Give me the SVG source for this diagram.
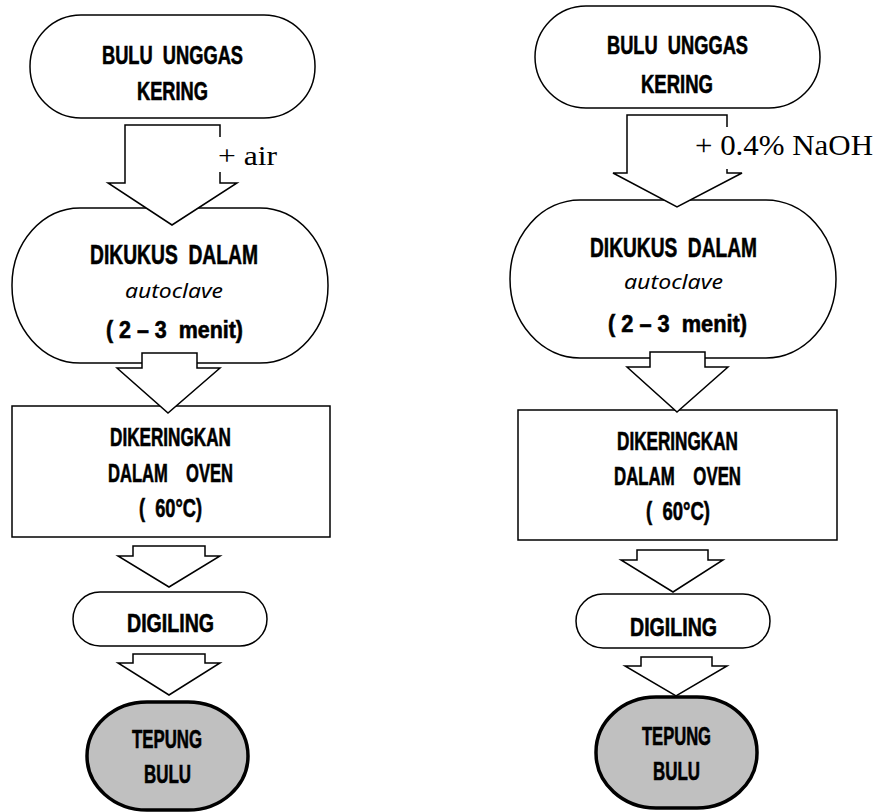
<svg xmlns="http://www.w3.org/2000/svg" width="879" height="812" viewBox="0 0 879 812" xml:space="preserve">
<style>
.n{fill:#fff;stroke:#000;stroke-width:1.5}
.e{fill:#c0c0c0;stroke:#000;stroke-width:3.5}
.af{fill:#fff;stroke:none}
.as{fill:none;stroke:#000;stroke-width:1.5;stroke-linejoin:miter}
text{white-space:pre}
.t{font-family:"Liberation Sans",Arial,sans-serif;font-weight:bold;fill:#000;stroke:#000;stroke-width:0.6;text-anchor:middle}
.h{font-family:"Noto Sans","DejaVu Sans",sans-serif;font-style:italic;fill:#000;text-anchor:middle}
.s{font-family:"Liberation Serif","Times New Roman",serif;fill:#000}
</style>
<rect width="879" height="812" fill="#fff"/>
<g id="left-start"><rect class="n" x="30" y="15" width="285" height="103" rx="51" ry="51"/>
<text class="t" x="172.5" y="64" font-size="25" textLength="141" lengthAdjust="spacingAndGlyphs">BULU  UNGGAS</text>
<text class="t" x="172.5" y="100" font-size="25" textLength="71" lengthAdjust="spacingAndGlyphs">KERING</text></g>
<g id="left-kukus"><rect class="n" x="12" y="208" width="316" height="155" rx="68" ry="77"/>
<text class="t" x="174" y="264" font-size="27" textLength="168" lengthAdjust="spacingAndGlyphs">DIKUKUS  DALAM</text>
<text class="h" x="174" y="298" font-size="20" textLength="98" lengthAdjust="spacingAndGlyphs">autoclave</text>
<text class="t" x="174.5" y="338" font-size="23" textLength="137" lengthAdjust="spacingAndGlyphs">( 2 – 3  menit)</text></g>
<g id="left-oven"><rect class="n" x="12" y="406" width="318" height="131"/>
<text class="t" x="170.5" y="446" font-size="25" textLength="121" lengthAdjust="spacingAndGlyphs">DIKERINGKAN</text>
<text class="t" x="170.5" y="482" font-size="25" textLength="125" lengthAdjust="spacingAndGlyphs">DALAM    OVEN</text>
<text class="t" x="170.5" y="517" font-size="25" textLength="63" lengthAdjust="spacingAndGlyphs">(  60°C)</text></g>
<g id="left-giling"><rect class="n" x="73" y="592" width="194" height="54" rx="27" ry="27"/>
<text class="t" x="170.5" y="632" font-size="26" textLength="87" lengthAdjust="spacingAndGlyphs">DIGILING</text></g>
<g id="left-tepung"><rect class="e" x="87" y="702" width="161" height="108" rx="60" ry="54"/>
<text class="t" x="167" y="748" font-size="25" textLength="70" lengthAdjust="spacingAndGlyphs">TEPUNG</text>
<text class="t" x="167.5" y="783" font-size="25" textLength="47" lengthAdjust="spacingAndGlyphs">BULU</text></g>

<g id="right-start"><rect class="n" x="535" y="6" width="285" height="102" rx="51" ry="51"/>
<text class="t" x="677.5" y="54" font-size="26" textLength="141" lengthAdjust="spacingAndGlyphs">BULU  UNGGAS</text>
<text class="t" x="677" y="93" font-size="26" textLength="72" lengthAdjust="spacingAndGlyphs">KERING</text></g>
<g id="right-kukus"><rect class="n" x="510" y="200" width="326" height="158" rx="70" ry="79"/>
<text class="t" x="673.5" y="257" font-size="28" textLength="167" lengthAdjust="spacingAndGlyphs">DIKUKUS  DALAM</text>
<text class="h" x="673.5" y="289" font-size="20" textLength="99" lengthAdjust="spacingAndGlyphs">autoclave</text>
<text class="t" x="677.5" y="332" font-size="23" textLength="139" lengthAdjust="spacingAndGlyphs">( 2 – 3  menit)</text></g>
<g id="right-oven"><rect class="n" x="518" y="410" width="319" height="130"/>
<text class="t" x="677.5" y="450" font-size="25" textLength="121" lengthAdjust="spacingAndGlyphs">DIKERINGKAN</text>
<text class="t" x="677.5" y="485" font-size="25" textLength="127" lengthAdjust="spacingAndGlyphs">DALAM    OVEN</text>
<text class="t" x="678" y="520" font-size="25" textLength="64" lengthAdjust="spacingAndGlyphs">(  60°C)</text></g>
<g id="right-giling"><rect class="n" x="576" y="594" width="194" height="54" rx="27" ry="27"/>
<text class="t" x="673.5" y="636" font-size="26" textLength="87" lengthAdjust="spacingAndGlyphs">DIGILING</text></g>
<g id="right-tepung"><rect class="e" x="596" y="697" width="161" height="111" rx="60" ry="55"/>
<text class="t" x="676.5" y="745" font-size="25" textLength="69" lengthAdjust="spacingAndGlyphs">TEPUNG</text>
<text class="t" x="676.5" y="780" font-size="25" textLength="47" lengthAdjust="spacingAndGlyphs">BULU</text></g>

<g id="connectors">
<path class="af" d="M125,125 H220 V183 H237 L172,225 L108,183 H125 Z"/>
<path class="as" d="M220,137 V125 H125 V183 H108 L172,225 L237,183 H220 V172"/>
<text class="s" x="218" y="165" font-size="28" textLength="59" lengthAdjust="spacingAndGlyphs">+ air</text>
<path class="n" d="M142,353 H197 V368 H220 L168,413 L117,368 H142 Z"/>
<path class="n" d="M133,546 H205 V556 H220 L169,587 L118,556 H133 Z"/>
<path class="n" d="M133,654 H205 V663 H220 L169,695 L118,663 H133 Z"/>

<path class="af" d="M627,115 H727 V173 H742 L677,207 L613,173 H627 Z"/>
<path class="as" d="M727,127 V115 H627 V173 H613 L677,207 L742,173 H727 V169"/>
<text class="s" x="695" y="155" font-size="29" textLength="178" lengthAdjust="spacingAndGlyphs">+ 0.4% NaOH</text>
<path class="n" d="M650,352 H705 V367 H728 L677,412 L627,367 H650 Z"/>
<path class="n" d="M637,550 H708 V560 H723 L673,592 L621,560 H637 Z"/>
<path class="n" d="M641,657 H712 V666 H727 L676,696 L625,666 H641 Z"/>
</g>
</svg>
